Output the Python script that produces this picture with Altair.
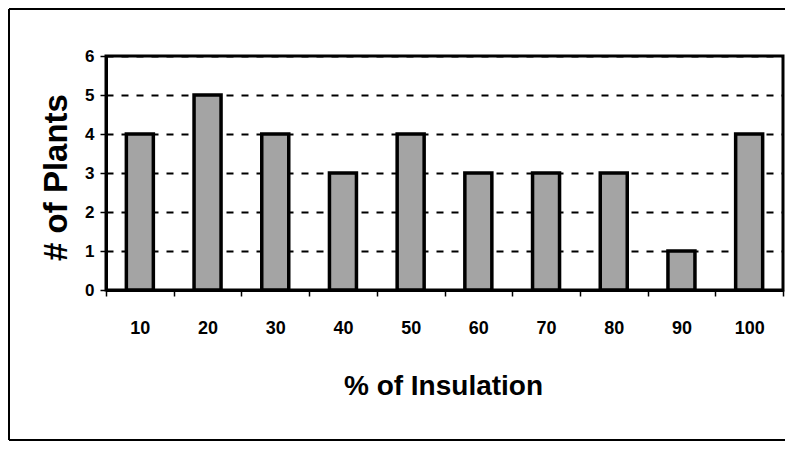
import altair as alt
import pandas as pd

categories = ["10", "20", "30", "40", "50", "60", "70", "80", "90", "100"]
plants = [4, 5, 4, 3, 4, 3, 3, 3, 1, 4]
y_ticks = [0, 1, 2, 3, 4, 5, 6]

df = pd.DataFrame({"ins": categories, "plants": plants})

FONT = "Liberation Sans, Arial, sans-serif"

W, H = 677, 234

bars = alt.Chart(df).mark_bar(
    size=27, fill="#a4a4a4", stroke="black", strokeWidth=3.5
).encode(
    x=alt.X(
        "ins:N", sort=categories,
        scale=alt.Scale(paddingInner=0, paddingOuter=0),
        axis=alt.Axis(
            title="% of Insulation",
            titleFont=FONT, titleFontSize=28, titleFontWeight="bold", titleColor="black",
            titleX=337, titleY=104, titleBaseline="alphabetic", titleAlign="center",
            labelFont=FONT, labelFontSize=18, labelFontWeight="bold", labelColor="black",
            labelAngle=0, labelBaseline="alphabetic", labelPadding=37,
            tickBand="extent", tickSize=6, tickColor="black", tickWidth=1.5,
            domainColor="black", domainWidth=3, grid=False,
        ),
    ),
    y=alt.Y(
        "plants:Q",
        scale=alt.Scale(domain=[0, 6], nice=False),
        axis=alt.Axis(
            title="# of Plants", values=y_ticks,
            titleFont=FONT, titleFontSize=33, titleFontWeight="bold", titleColor="black",
            titleX=-50, titleY=121, titleAngle=270, titleAlign="center", titleBaseline="middle",
            labelFont=FONT, labelFontSize=17, labelFontWeight="bold", labelColor="black",
            labelPadding=6,
            tickSize=6, tickColor="black", tickWidth=1.5,
            domainColor="black", domainWidth=3,
            grid=True, gridColor="black", gridWidth=2, gridDash=[7, 8],
        ),
    ),
)

one = pd.DataFrame({"a": [0]})
frame_top = alt.Chart(one).mark_rule(stroke="black", strokeWidth=2, clip=False).encode(
    x=alt.value(-97), x2=alt.value(720), y=alt.value(-47)
)
frame_left = alt.Chart(one).mark_rule(stroke="black", strokeWidth=2, clip=False).encode(
    x=alt.value(-97), y=alt.value(-47), y2=alt.value(384)
)
frame_bottom = alt.Chart(one).mark_rule(stroke="black", strokeWidth=2, clip=False).encode(
    x=alt.value(-97), x2=alt.value(720), y=alt.value(384)
)

chart = alt.layer(frame_top, frame_left, frame_bottom, bars).properties(
    width=W, height=H,
    autosize="none",
    padding={"left": 98, "top": 48, "right": 2, "bottom": 151},
).configure(
    background="white",
    view=alt.ViewConfig(stroke="black", strokeWidth=3),
)

chart.save("out.html", embed_options={"renderer": "svg", "actions": False})
